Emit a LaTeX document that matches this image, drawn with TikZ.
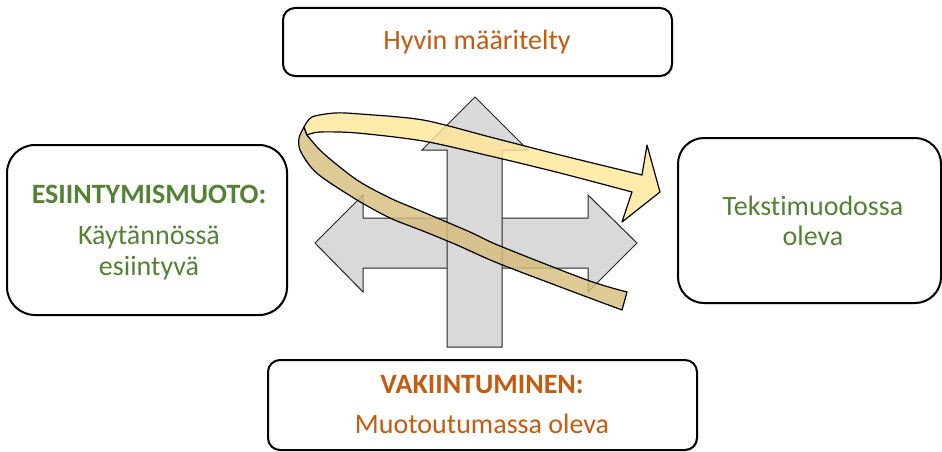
\documentclass[tikz,border=0pt]{standalone}
\usepackage{fontspec}
\setmainfont{Carlito}[Ligatures={NoCommon,NoRare,NoDiscretionary,NoContextual}]
\usetikzlibrary{shadows}
\definecolor{orng}{HTML}{C55A11}
\definecolor{grn}{HTML}{548235}
\definecolor{arrgray}{HTML}{D9D9D9}
\definecolor{ribbonlight}{HTML}{FFE699}
\definecolor{ribbondark}{HTML}{D7BE7E}
\begin{document}
\begin{tikzpicture}[x=1pt,y=-1pt,
  card/.style={draw=black, line width=2pt, fill=white, rounded corners=#1, inner sep=0pt,
    drop shadow={shadow xshift=1.2pt, shadow yshift=-1.2pt, opacity=0.3}},
  txt/.style={font=\fontsize{28}{30}\selectfont, anchor=base, inner sep=0pt},
  grayarrow/.style={fill=arrgray, draw=black!85, line width=1pt, line join=miter},
  ribbonpart/.style={fill=#1, fill opacity=0.82, draw=black, line width=1.2pt, line join=round}]
\useasboundingbox (0,0) rectangle (942,452);
\clip (0,0) rectangle (942,452);

% boxes
\node[card=12pt, minimum width=389pt, minimum height=68pt] (top) at (477.5,42) {};
\node[card=28pt, minimum width=280pt, minimum height=170pt] (left) at (147,230) {};
\node[card=26pt, minimum width=263pt, minimum height=165pt] (right) at (809.5,220.5) {};
\node[card=12pt, minimum width=429pt, minimum height=90pt] (bottom) at (482.5,405) {};

% texts
\node[txt, text=orng] (ttop) at (477,50) {Hyvin määritelty};
\node[txt, text=grn, font=\fontsize{28}{30}\selectfont\bfseries] (tl1) at (149,203) {ESIINTYMISMUOTO:};
\node[txt, text=grn] (tl2) at (149,244) {Käytännössä};
\node[txt, text=grn] (tl3) at (149,275) {esiintyvä};
\node[txt, text=grn] (tr1) at (813,215) {Tekstimuodossa};
\node[txt, text=grn] (tr2) at (813,245) {oleva};
\node[txt, text=orng, font=\fontsize{28}{30}\selectfont\bfseries] (tb1) at (482,393) {VAKIINTUMINEN:};
\node[txt, text=orng] (tb2) at (482,433) {Muotoutumassa oleva};

% gray arrows
\draw[grayarrow] (315,243) -- (363,195) -- (363,218) -- (588,218) -- (588,195) -- (637,243)
  -- (588,292) -- (588,268) -- (363,268) -- (363,292) -- cycle;
\draw[grayarrow] (475,97) -- (528,150) -- (502,150) -- (502,347) -- (447,347) -- (447,150)
  -- (422,150) -- cycle;

% ribbon back (dark) part
\filldraw[ribbonpart=ribbondark]
  plot[smooth] coordinates {(304,127) (299,138) (300,150) (310,166) (323,178) (357,200)
    (390,218) (423,231) (457,245) (500,264) (587,297) (622,310)}
  -- (627,292)
  -- plot[smooth] coordinates {(627,292) (587,280) (500,246) (470,232) (423,212) (390,198)
    (357,180) (323,153) (307,135)}
  -- cycle;
% ribbon front (light) part with arrowhead
\filldraw[ribbonpart=ribbonlight]
  plot[smooth] coordinates {(304,127) (312,117) (335,113) (360,114) (423,120) (490,137)
    (560,155) (642,175)}
  -- (647,145) -- (660,192) -- (622,222) -- (632,192)
  -- plot[smooth] coordinates {(632,192) (560,173) (490,156) (423,141) (357,133) (320,132)
    (307,135)}
  -- cycle;
\end{tikzpicture}
\end{document}
